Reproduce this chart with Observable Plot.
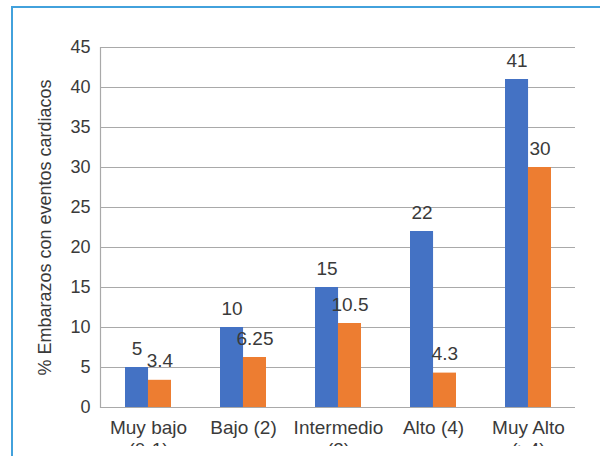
<!DOCTYPE html>
<html>
<head>
<meta charset="utf-8">
<script src="https://cdn.jsdelivr.net/npm/d3@7"></script>
<script src="https://cdn.jsdelivr.net/npm/@observablehq/plot@0.6"></script>
<style>
  html, body { margin: 0; padding: 0; background: #fff; overflow: hidden; }
  #card {
    position: absolute; left: 11px; top: 6px; width: 620px; height: 500px;
    border-left: 2px solid #42a1dc; border-top: 2px solid #42a1dc;
  }
  #chart { position: absolute; left: 0; top: 0; width: 600px; height: 446px; overflow: hidden; }
</style>
</head>
<body>
<div id="card"></div>
<div id="chart"></div>
<script>
// Risk categories (two-line labels) and the two series of percentages
const categories = ["Muy bajo\n(0-1)", "Bajo (2)", "Intermedio\n(3)", "Alto (4)", "Muy Alto\n(>4)"];
const seriesNames = ["Serie 1", "Serie 2"];
const blueValues = [5, 10, 15, 22, 41];
const orangeValues = [3.4, 6.25, 10.5, 4.3, 30];
const yTicks = [0, 5, 10, 15, 20, 25, 30, 35, 40, 45];
const yLabel = "% Embarazos con eventos cardiacos";

const colors = ["#4472c4", "#ed7d31"];
const textColor = "#3a3a3a";
const gridColor = "#a9a9a9";

const width = 600, height = 480;
const marginLeft = 100, marginRight = 25, marginTop = 47, marginBottom = 73;
const paddingInner = 0.517;

// half of a category band: each series takes one side of the group
const step = (width - marginLeft - marginRight) / categories.length;
const half = step * (1 - paddingInner) / 2;

const blue = categories.map((c, i) => ({cat: c, series: seriesNames[0], value: blueValues[i]}));
const orange = categories.map((c, i) => ({cat: c, series: seriesNames[1], value: orangeValues[i]}));

const chart = Plot.plot({
  width, height, marginLeft, marginRight, marginTop, marginBottom,
  style: {fontFamily: "'Liberation Sans', Arial, sans-serif", color: textColor, background: "transparent"},
  x: {type: "band", domain: categories, paddingInner, paddingOuter: paddingInner / 2},
  y: {domain: [0, 45]},
  marks: [
    Plot.gridY({ticks: yTicks, stroke: gridColor, strokeOpacity: 1, strokeWidth: 1.2}),
    Plot.frame({anchor: "left", stroke: gridColor, strokeWidth: 1.2}),
    Plot.barY(blue, {x: "cat", y: "value", fill: colors[0], insetRight: half}),
    Plot.barY(orange, {x: "cat", y: "value", fill: colors[1], insetLeft: half}),
    Plot.text(blue, {x: "cat", y: "value", text: d => String(d.value), dx: -half / 2, dy: -19, fontSize: 19, fill: textColor}),
    Plot.text(orange, {x: "cat", y: "value", text: d => String(d.value), dx: half / 2, dy: -19, fontSize: 19, fill: textColor}),
    Plot.axisY({ticks: yTicks, tickSize: 0, tickPadding: 10, fontSize: 18,
      label: yLabel, labelAnchor: "center", labelOffset: 62, labelArrow: "none"}),
    Plot.axisX({tickSize: 0, tickPadding: 10, fontSize: 19, lineHeight: 1.2, label: null})
  ]
});
document.getElementById("chart").appendChild(chart);
</script>
</body>
</html>
